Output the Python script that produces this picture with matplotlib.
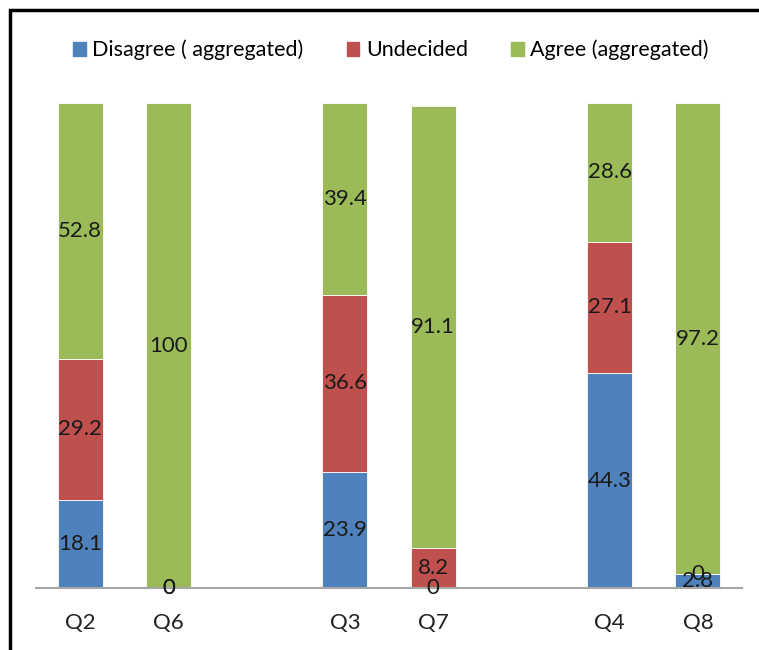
import matplotlib.pyplot as plt
import matplotlib.patches as mpatches
import numpy as np

categories = ["Q2", "Q6", "", "Q3", "Q7", "", "Q4", "Q8"]
disagree = [18.1, 0, None, 23.9, 0, None, 44.3, 2.8]
undecided = [29.2, 0, None, 36.6, 8.2, None, 27.1, 0]
agree = [52.8, 100, None, 39.4, 91.1, None, 28.6, 97.2]
series_names = ["Disagree ( aggregated)", "Undecided", "Agree (aggregated)"]
colors = ["#4F81BD", "#C0504D", "#9BBB59"]

plt.rcParams['font.family'] = ['Lato', 'DejaVu Sans']

W, H = 759, 650
fig = plt.figure(figsize=(W / 100, H / 100), dpi=100)
ax = fig.add_axes([36 / W, (H - 588) / H, (742 - 36) / W, (588 - 103) / H])

x = np.arange(len(categories))
bottoms = np.zeros(len(categories))
width = 0.51
for vals, col, name in zip([disagree, undecided, agree], colors, series_names):
    for i, v in enumerate(vals):
        if v is None:
            continue
        ax.bar(x[i], v, width, bottom=bottoms[i], color=col, edgecolor="#ffffff",
               linewidth=0.6, label=name if i == 0 else None)
        ax.text(x[i], bottoms[i] + v / 2, f"{v:g}", ha="center", va="center",
                fontsize=16, color="#1a1a1a")
        bottoms[i] += v

ax.set_xlim(-0.5, len(categories) - 0.5)
ax.set_ylim(0, 100)
ax.set_xticks(x)
ax.set_xticklabels(categories, fontsize=16, color="#222222")
ax.tick_params(axis="x", length=0, pad=18)
ax.set_yticks([])
for s in ["top", "right", "left"]:
    ax.spines[s].set_visible(False)
ax.spines["bottom"].set_color("#a6a6a6")
ax.spines["bottom"].set_linewidth(1.5)

handles = [mpatches.Patch(color=c, label=n) for c, n in zip(colors, series_names)]
fig.legend(handles=handles, loc="center", bbox_to_anchor=(0.515, (H - 50) / H),
           ncol=3, frameon=False, fontsize=15.5, handlelength=0.6, handleheight=0.6,
           handletextpad=0.3, columnspacing=2.0)

border = mpatches.Rectangle((10 / W, -0.05), 1.1, (H - 10) / H + 0.05,
                            transform=fig.transFigure, fill=False,
                            edgecolor="black", linewidth=2.5)
fig.patches.append(border)

fig.savefig("out.png", dpi=100)
